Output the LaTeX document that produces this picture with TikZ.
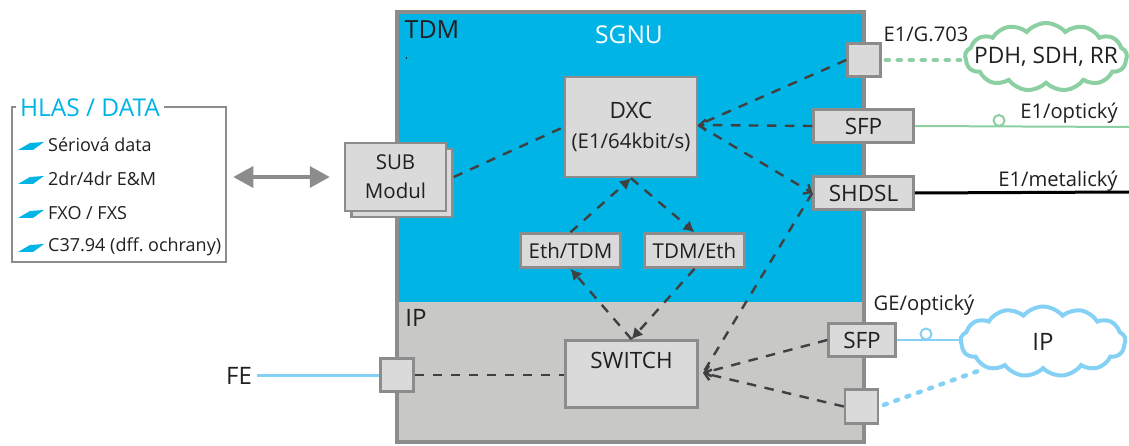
\documentclass[tikz,border=0pt]{standalone}
\usepackage{fontspec}
\setmainfont{Open Sans}
\usetikzlibrary{arrows.meta,shapes.symbols}
\definecolor{tdmblue}{HTML}{00B5E6}
\definecolor{ipgray}{HTML}{C8C8C6}
\definecolor{framegray}{HTML}{8C8C8C}
\definecolor{boxgray}{HTML}{DADADA}
\definecolor{linkdark}{HTML}{404040}
\definecolor{txtdark}{HTML}{231F20}
\definecolor{linkgreen}{HTML}{8CCFA2}
\definecolor{linkblue}{HTML}{85D1F5}
\tikzset{
	boxnode/.style={draw=framegray,fill=boxgray,line width=2.5pt,inner sep=0pt,text=txtdark,align=center,font=\fontsize{22.5}{29}\selectfont},
	lbl/.style={inner sep=0pt,text=txtdark,font=\fontsize{20.2}{24}\selectfont},
	itemlbl/.style={inner sep=0pt,anchor=west,text=txtdark,font=\fontsize{18}{22}\selectfont},
	cloudnode/.style={cloud,cloud puffs=13,cloud puff arc=100,inner sep=0pt,fill=white,line width=4pt,text=txtdark},
	dashlink/.style={draw=linkdark,line width=2.4pt,dash pattern=on 9.5pt off 8.5pt},
	opentip/.style={-{Straight Barb[length=6pt,width=11pt]}},
	filltip/.style={-{Latex[length=11pt,width=12pt]}},
	dotlink/.style={line width=4.5pt,line cap=round,dash pattern=on 3pt off 9pt},
}
\begin{document}
\begin{tikzpicture}[x=1pt,y=-1pt]
	\useasboundingbox (0,0) rectangle (1129,446);
	\fill[tdmblue] (397,12) rectangle (864,302);
	\fill[ipgray] (397,302) rectangle (864,442);
	\draw[framegray,line width=4.5pt] (397,12) rectangle (864,442);
	\node[inner sep=0pt,text=txtdark,font=\fontsize{25}{28}\selectfont] (tdm) at (432,30) {TDM};
	\node[inner sep=0pt,text=white,font=\fontsize{24.5}{28}\selectfont] (sgnu) at (629,35) {SGNU};
	\node[inner sep=0pt,text=txtdark,font=\fontsize{24}{28}\selectfont] (ip) at (416,318) {IP};
	\draw[txtdark,line width=1pt] (406,57) -- (406,59.5);

	\node[draw=framegray,line width=2.5pt,minimum width=214pt,minimum height=155pt,inner sep=0pt] (hlas) at (119,184.5) {};
	\node[fill=white,inner sep=4pt,text=tdmblue,font=\fontsize{24.5}{27}\selectfont] (hlastitle) at (90,108) {HLAS / DATA};
	\foreach \name/\ypos/\txt in {serial/145/{Sériová data},emdr/179/{2dr/4dr E\&M},fxo/213/{FXO / FXS},cdiff/247/{C37.94 (dff.\ ochrany)}} {
		\fill[tdmblue] (18,\ypos+5) -- (30,\ypos-2) -- (44,\ypos-3) -- (33,\ypos+5) -- cycle;
		\node[itemlbl] (\name) at (48,\ypos) {\txt};
	}

	\node[boxnode,minimum width=101pt,minimum height=68pt] (subback) at (402,183) {};
	\node[boxnode,minimum width=101pt,minimum height=68pt,font=\fontsize{20.5}{29}\selectfont] (sub) at (395.5,177) {SUB\\Modul};
	\node[boxnode,minimum width=132pt,minimum height=100pt] (dxc) at (631,127) {DXC\\[1pt]{\fontsize{20.4}{24}\selectfont (E1/64kbit/s)}};
	\node[boxnode,minimum width=33pt,minimum height=33pt] (g703) at (864,60) {};
	\node[boxnode,minimum width=100pt,minimum height=33pt] (sfptdm) at (863.5,126) {SFP};
	\node[boxnode,minimum width=100pt,minimum height=33pt] (shdsl) at (863.5,193) {SHDSL};
	\node[boxnode,minimum width=100pt,minimum height=34pt,font=\fontsize{20.5}{24}\selectfont] (ethtdm) at (570.5,250.5) {Eth/TDM};
	\node[boxnode,minimum width=100pt,minimum height=34pt,font=\fontsize{20.5}{24}\selectfont] (tdmeth) at (694.5,250.5) {TDM/Eth};
	\node[boxnode,minimum width=132pt,minimum height=67pt,text depth=27pt] (switch) at (631.5,374) {SWITCH};
	\node[boxnode,minimum width=33pt,minimum height=33pt] (fe) at (397,375) {};
	\node[boxnode,minimum width=67pt,minimum height=33pt] (sfpip) at (862,340) {SFP};
	\node[boxnode,minimum width=33pt,minimum height=34pt] (geport) at (861.5,406.5) {};

	\node[cloudnode,draw=linkgreen,minimum width=162pt,minimum height=68pt,aspect=2.4,font=\fontsize{22.7}{26}\selectfont] (pdh) at (1046,57) {\makebox[0pt]{PDH, SDH, RR}};
	\node[cloudnode,draw=linkblue,minimum width=165pt,minimum height=70pt,aspect=2.4,font=\fontsize{24}{28}\selectfont] (ipnet) at (1043,341.5) {IP};

	\node[lbl] (g703lbl) at (926,34) {E1/G.703};
	\node[lbl] (optlbl) at (1069,113) {E1/optický};
	\node[lbl] (metlbl) at (1058,181) {E1/metalický};
	\node[lbl] (gelbl) at (924,305) {GE/optický};
	\node[inner sep=0pt,text=txtdark,font=\fontsize{24}{28}\selectfont] (felbl) at (239,376) {FE};

	\coordinate (optend) at (1129,127);
	\coordinate (metend) at (1129,192);
	\coordinate (swport) at (703,373);
	\coordinate (dxcport) at (698,125);

	\draw[dashlink] (subback.east |- sub.east) -- (dxc.west);
	\draw[dashlink] (g703.west) -- (dxcport);
	\draw[dashlink,opentip] (sfptdm.west) -- (dxcport);
	\draw[dashlink,opentip] (dxcport) -- (shdsl.west);
	\draw[dashlink] (shdsl.west) -- (swport);
	\draw[dashlink,opentip] (sfpip.west) -- (swport);
	\draw[dashlink,opentip] (geport.west) -- (swport);
	\draw[dashlink] (fe.east) -- (fe.east -| switch.west);
	\draw[dashlink,filltip] (ethtdm.north) -- (dxc.south);
	\draw[dashlink,filltip] (dxc.south) -- (tdmeth.north);
	\draw[dashlink,filltip] (tdmeth.south) -- (switch.north);
	\draw[dashlink,filltip] (switch.north) -- (ethtdm.south);

	\draw[linkgreen,line width=2pt] (sfptdm.east) -- (optend);
	\node[draw=linkgreen,line width=2pt,fill=white,circle,minimum size=11pt,inner sep=0pt] (optring) at (999,120.5) {};
	\draw[black,line width=3pt] (shdsl.east) -- (metend);
	\draw[linkgreen,dotlink,shorten >=3pt,shorten <=4pt] (g703.east) -- (pdh.west |- g703.east);
	\draw[linkblue,line width=2pt] (sfpip.east) -- (ipnet.west |- sfpip.east);
	\node[draw=linkblue,line width=2pt,fill=white,circle,minimum size=11pt,inner sep=0pt] (gering) at (926,334) {};
	\draw[linkblue,dotlink,shorten <=5pt,shorten >=4pt] (geport.east) -- (ipnet.205);
	\draw[linkblue,line width=3pt,shorten <=5pt] (felbl.east |- fe.west) -- (fe.west);

	\draw[framegray,line width=3.5pt,{Triangle[length=20pt,width=21pt]}-{Triangle[length=20pt,width=21pt]},shorten <=6pt,shorten >=14pt] (hlas.east |- sub.west) -- (sub.west);
\end{tikzpicture}
\end{document}
